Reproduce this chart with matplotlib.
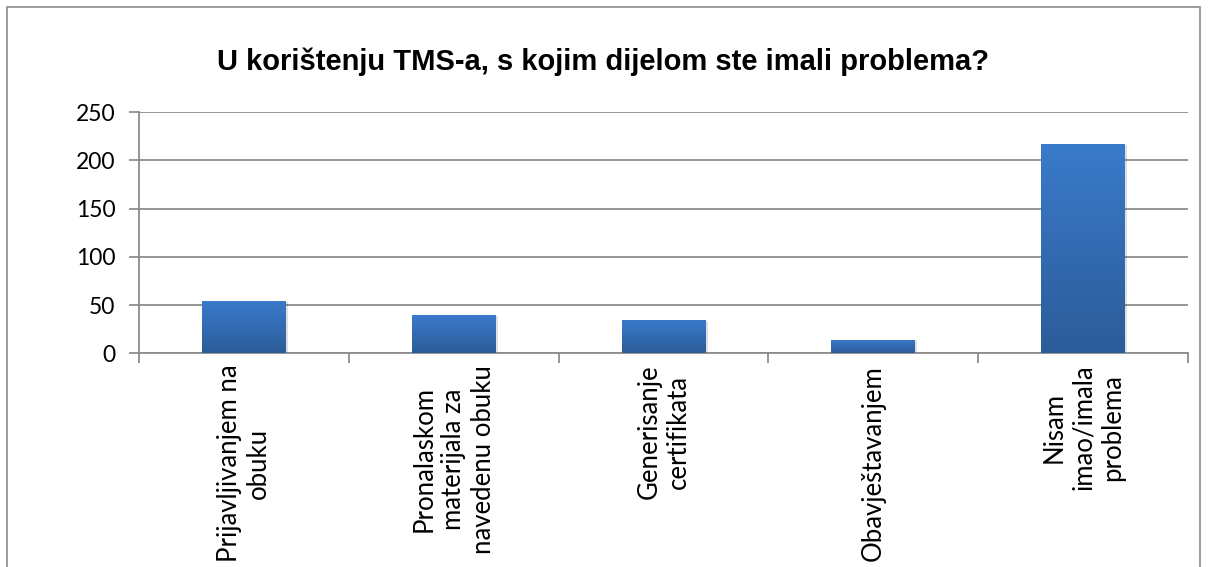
import matplotlib
matplotlib.use("Agg")
import matplotlib.pyplot as plt
import numpy as np
from matplotlib.patches import Rectangle
from matplotlib.colors import LinearSegmentedColormap

title = "U korištenju TMS-a, s kojim dijelom ste imali problema?"
categories = [
    "Prijavljivanjem na\nobuku",
    "Pronalaskom\nmaterijala za\nnavedenu obuku",
    "Generisanje\ncertifikata",
    "Obavještavanjem",
    "Nisam\nimao/imala\nproblema",
]
values = [54, 40, 35, 14, 217]
yticks = [0, 50, 100, 150, 200, 250]

W, H = 1208, 567
fig = plt.figure(figsize=(W / 100, H / 100), dpi=100)
fig.patch.set_facecolor("white")

# outer chart border
fig.add_artist(Rectangle((7 / W, -0.05), (1200 - 7) / W, 1.05 - 7 / H,
                         transform=fig.transFigure, fill=False,
                         edgecolor="#8c8c8c", linewidth=1.2))

ax = fig.add_axes([139 / W, 1 - 353.3 / H, (1188 - 139) / W, (353.3 - 112.3) / H])
x = np.arange(len(values))
bars = ax.bar(x, values, width=0.4, color="none", edgecolor="none", zorder=3)

cmap = LinearSegmentedColormap.from_list("g", ["#2c5c99", "#3a7bcb"])
grad = np.linspace(0, 1, 256).reshape(-1, 1)
for b in bars:
    x0, w, h = b.get_x(), b.get_width(), b.get_height()
    ax.add_patch(Rectangle((x0 + 0.01, -1), w, h, facecolor="#000000", alpha=0.12,
                           edgecolor="none", zorder=2.5))
    im = ax.imshow(grad, cmap=cmap, origin="lower", aspect="auto",
                   extent=[x0, x0 + w, 0, h], zorder=3)
    im.set_clip_path(b)

ax.set_xlim(-0.5, len(values) - 0.5)
ax.set_ylim(0, 250)
ax.set_yticks(yticks)
ax.set_yticklabels([str(v) for v in yticks], fontsize=16.5, family="Lato")
ax.yaxis.grid(True, color="#8c8c8c", linewidth=1.3, zorder=1)
ax.set_axisbelow(True)

ax.set_xticks(np.arange(len(values) + 1) - 0.5)
ax.set_xticklabels([])
ax.tick_params(axis="x", length=7, color="#8c8c8c", width=1.3, direction="out")
ax.tick_params(axis="y", length=7, color="#8c8c8c", width=1.3, direction="out", pad=10)

for s in ["top", "right"]:
    ax.spines[s].set_visible(False)
for s in ["left", "bottom"]:
    ax.spines[s].set_color("#8c8c8c")
    ax.spines[s].set_linewidth(1.3)

for i, lab in enumerate(categories):
    ax.text(i, -12, lab, rotation=90, ha="center", va="top", multialignment="center",
            fontsize=18.5, family="Lato", transform=ax.transData, clip_on=False,
            linespacing=1.22)

fig.text(603 / W, 1 - 62 / H, title, ha="center", va="center", fontsize=21,
         fontweight="bold", family="Liberation Sans")

fig.savefig("out.png", dpi=100)
